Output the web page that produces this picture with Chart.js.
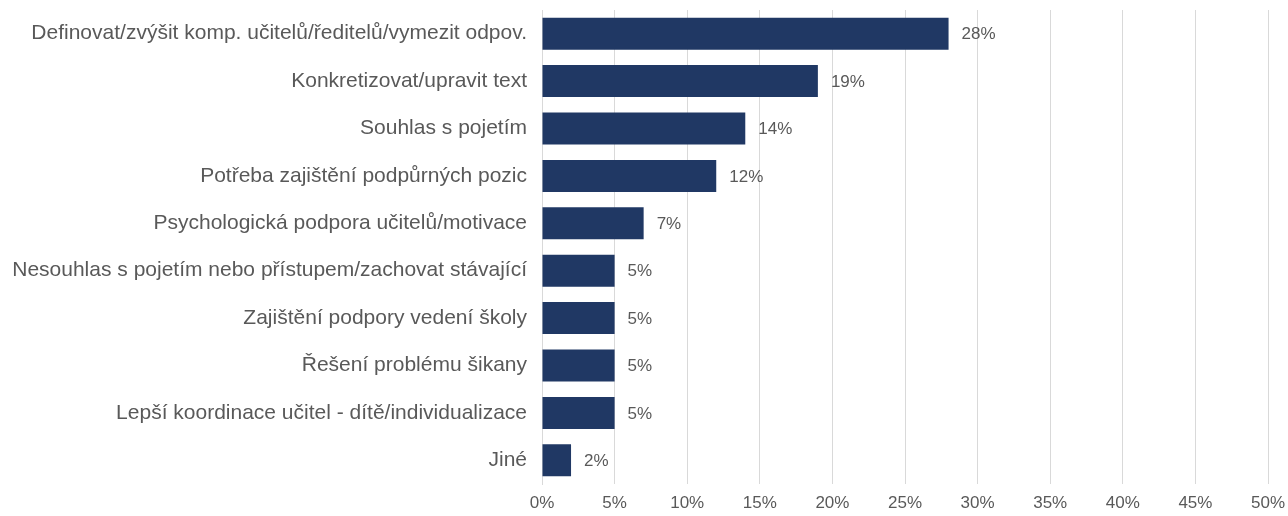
<!DOCTYPE html>
<html>
<head>
<meta charset="utf-8">
<script src="https://cdn.jsdelivr.net/npm/chart.js@4"></script>
<style>
  html, body { margin: 0; padding: 0; background: #fff; }
  #wrap { width: 1288px; height: 516px; }
</style>
</head>
<body>
<div id="wrap"><canvas id="chart"></canvas></div>
<script>
// Categories and shares
const categories = [
    'Definovat/zvýšit komp. učitelů/ředitelů/vymezit odpov.',
    'Konkretizovat/upravit text',
    'Souhlas s pojetím',
    'Potřeba zajištění podpůrných pozic',
    'Psychologická podpora učitelů/motivace',
    'Nesouhlas s pojetím nebo přístupem/zachovat stávající',
    'Zajištění podpory vedení školy',
    'Řešení problému šikany',
    'Lepší koordinace učitel - dítě/individualizace',
    'Jiné'
];
const shares = [28, 19, 14, 12, 7, 5, 5, 5, 5, 2];
const tickMax = 50;
const tickStep = 5;

const textColor = '#595959';
const barColor = '#203864';
const fontFamily = '"Liberation Sans", Arial, sans-serif';

// Draw the value next to each bar
const valueLabels = {
    id: 'valueLabels',
    afterDatasetsDraw(chart) {
        const ctx = chart.ctx;
        const meta = chart.getDatasetMeta(0);
        ctx.save();
        ctx.fillStyle = textColor;
        ctx.font = '17px ' + fontFamily;
        ctx.textAlign = 'left';
        ctx.textBaseline = 'middle';
        meta.data.forEach((bar, i) => {
            ctx.fillText(shares[i] + '%', bar.x + 13, bar.y + 1);
        });
        ctx.restore();
    }
};

const ctx = document.getElementById('chart').getContext('2d');
new Chart(ctx, {
    type: 'bar',
    data: {
        labels: categories,
        datasets: [{
            data: shares,
            backgroundColor: barColor,
            borderWidth: 0,
            categoryPercentage: 1,
            barPercentage: 0.675
        }]
    },
    options: {
        indexAxis: 'y',
        responsive: true,
        maintainAspectRatio: false,
        animation: false,
        layout: { padding: { top: 10, right: 20, bottom: 0, left: 0 } },
        plugins: {
            legend: { display: false },
            tooltip: { enabled: false }
        },
        scales: {
            x: {
                min: 0,
                max: tickMax,
                ticks: {
                    stepSize: tickStep,
                    color: textColor,
                    font: { family: fontFamily, size: 17 },
                    padding: 9,
                    callback: v => v + '%'
                },
                grid: { color: '#d9d9d9', drawTicks: false },
                border: { display: false },
                afterFit(scale) {
                    scale.height = 32;
                    scale.paddingLeft = 0;
                    scale.paddingRight = 0;
                }
            },
            y: {
                ticks: {
                    color: textColor,
                    font: { family: fontFamily, size: 21 },
                    padding: 15
                },
                grid: { display: false, drawTicks: false },
                border: { display: true, color: '#d9d9d9' },
                afterFit(scale) {
                    scale.width = 542;
                    scale.paddingTop = 0;
                    scale.paddingBottom = 0;
                }
            }
        }
    },
    plugins: [valueLabels]
});
</script>
</body>
</html>
